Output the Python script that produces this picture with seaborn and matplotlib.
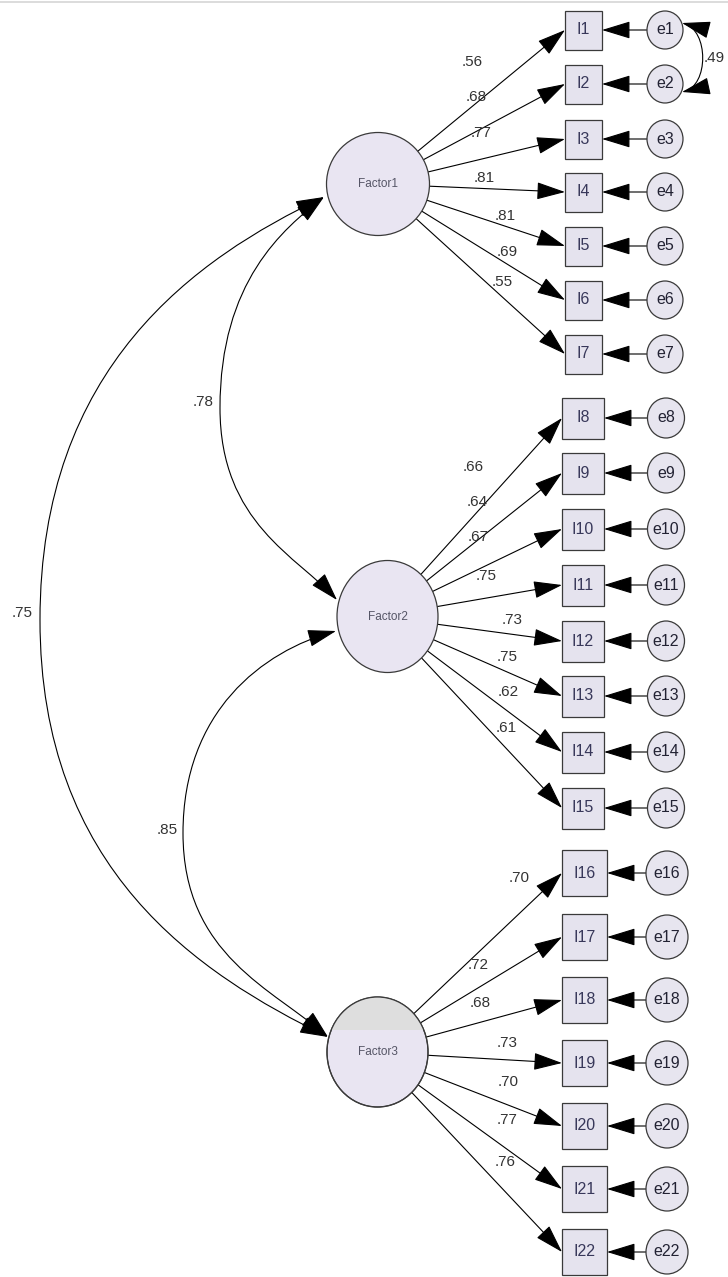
import numpy as np
import matplotlib
matplotlib.use("Agg")
import matplotlib.pyplot as plt
import seaborn as sns
from matplotlib.patches import Ellipse, Rectangle, FancyArrowPatch
from matplotlib.path import Path

sns.set_theme(style="white")
plt.rcParams['font.family'] = ['Liberation Sans', 'DejaVu Sans']

# ---- data ----
factors = ['Factor1', 'Factor2', 'Factor3']
items1 = ['I1', 'I2', 'I3', 'I4', 'I5', 'I6', 'I7']
items2 = ['I8', 'I9', 'I10', 'I11', 'I12', 'I13', 'I14', 'I15']
items3 = ['I16', 'I17', 'I18', 'I19', 'I20', 'I21', 'I22']
errors1 = ['e1', 'e2', 'e3', 'e4', 'e5', 'e6', 'e7']
errors2 = ['e8', 'e9', 'e10', 'e11', 'e12', 'e13', 'e14', 'e15']
errors3 = ['e16', 'e17', 'e18', 'e19', 'e20', 'e21', 'e22']
loadings1 = [.56, .68, .77, .81, .81, .69, .55]
loadings2 = [.66, .64, .67, .75, .73, .75, .62, .61]
loadings3 = [.70, .72, .68, .73, .70, .77, .76]
cov_f1_f2 = .78
cov_f2_f3 = .85
cov_f1_f3 = .75
cov_e1_e2 = .49

# ---- layout (pixels) ----
W, H = 728, 1277
factor_xy = [(378, 184), (387.5, 616.5), (377.5, 1052)]
factor_wh = [(103, 103), (101, 112), (101, 110)]
item_y1 = [30, 84, 139, 192, 246, 300, 354]
item_y2 = [418, 473, 529, 585, 641, 696, 752, 808]
item_y3 = [873, 937, 1000, 1063, 1126, 1189, 1252]
box_cx = [583.5, 583, 584.5]
box_wh = [(37, 39), (42, 41), (45, 46)]
err_cx = [665, 666, 667]
err_r = [(18, 19), (18.5, 20), (21, 22)]
lab_pos1 = [(472, 62), (476, 97), (481, 133), (484, 178), (505, 216), (507, 252), (502, 282)]
lab_pos2 = [(473, 467), (477, 502), (478, 537), (486, 576), (512, 620), (507, 657), (508, 692), (506, 728)]
lab_pos3 = [(519, 878), (478, 965), (480, 1003), (507, 1043), (508, 1082), (507, 1120), (505, 1162)]

fill_f = '#e9e5f2'
fill_box = '#e5e3ee'
fill_e = '#e7e5ef'
edge = '#3a3a3a'
HEAD = "-|>,head_length=1.8,head_width=0.55"
HEAD2 = "<|-|>,head_length=1.8,head_width=0.55"

fig = plt.figure(figsize=(W / 100, H / 100), dpi=100)
ax = fig.add_axes([0, 0, 1, 1])
ax.set_xlim(0, W)
ax.set_ylim(H, 0)
ax.axis('off')
ax.axhline(1.5, color='#d5d5d5', lw=1.2)


def fmt(v):
    return f"{v:.2f}".lstrip('0')


def arrow(p0, p1, style=HEAD):
    a = FancyArrowPatch(p0, p1, arrowstyle=style, mutation_scale=10, lw=0.8,
                        color='black', shrinkA=0, shrinkB=0, zorder=3)
    ax.add_patch(a)


# factors
for k, name in enumerate(factors):
    (cx, cy), (w, h) = factor_xy[k], factor_wh[k]
    e = Ellipse((cx, cy), w, h, fc=fill_f, ec=edge, lw=0.9, zorder=4)
    ax.add_patch(e)
    if k == 2:
        grey = Rectangle((cx - w, cy - h), 2 * w, (cy - 22) - (cy - h), fc='#dedede', ec='none', zorder=4)
        ax.add_patch(grey)
        grey.set_clip_path(e)
        ax.add_patch(Ellipse((cx, cy), w, h, fc='none', ec=edge, lw=0.9, zorder=4))
    ax.text(cx, cy, name, ha='center', va='center', fontsize=8.5, color='#555566', zorder=5)

blocks = [(items1, errors1, loadings1, item_y1, lab_pos1),
          (items2, errors2, loadings2, item_y2, lab_pos2),
          (items3, errors3, loadings3, item_y3, lab_pos3)]

for k, (items, errs, loads, ys, labs) in enumerate(blocks):
    fx, fy = factor_xy[k]
    fw, fh = factor_wh[k]
    bw, bh = box_wh[k]
    bx = box_cx[k]
    ex = err_cx[k]
    erx, ery = err_r[k]
    for it, er, ld, y, (lx, ly) in zip(items, errs, loads, ys, labs):
        ax.add_patch(Rectangle((bx - bw / 2, y - bh / 2), bw, bh, fc=fill_box, ec=edge, lw=0.9, zorder=4))
        ax.text(bx, y, it, ha='center', va='center', fontsize=11.5, color='#38385a', zorder=5)
        ax.add_patch(Ellipse((ex, y), 2 * erx, 2 * ery, fc=fill_e, ec=edge, lw=0.9, zorder=4))
        ax.text(ex, y, er, ha='center', va='center', fontsize=11.5, color='#222233', zorder=5)
        # error -> item
        arrow((ex - erx, y), (bx + bw / 2, y))
        # factor -> item
        tx, ty = bx - bw / 2, y
        ang = np.arctan2(ty - fy, tx - fx)
        sx, sy = fx + fw / 2 * np.cos(ang), fy + fh / 2 * np.sin(ang)
        arrow((sx, sy), (tx, ty))
        ax.text(lx, ly, fmt(ld), ha='center', va='center', fontsize=11, color='#333333', zorder=5)


def cov_curve(p_top, d_top, p_left, p_bot, d_bot):
    xt, yt = p_top
    xl, yl = p_left
    xb, yb = p_bot
    d_top = np.array(d_top) / np.hypot(*d_top)
    d_bot = np.array(d_bot) / np.hypot(*d_bot)
    h1 = 0.6 * (yl - yt)
    h2 = 0.5 * (xt - xl)
    h3 = 0.6 * (yb - yl)
    h4 = 0.5 * (xb - xl)
    verts = [(xt, yt), (xt - h2 * d_top[0], yt - h2 * d_top[1]), (xl, yl - h1), (xl, yl),
             (xl, yl + h3), (xb - h4 * d_bot[0], yb - h4 * d_bot[1]), (xb, yb)]
    codes = [Path.MOVETO] + [Path.CURVE4] * 6
    p = FancyArrowPatch(path=Path(verts, codes), arrowstyle=HEAD2, mutation_scale=10,
                        lw=0.8, color='black', zorder=3)
    ax.add_patch(p)


cov_curve((324, 197), (0.79, -0.62), (220, 408), (337, 600), (0.67, 0.74))
cov_curve((324, 197), (0.9, -0.43), (40, 620), (328, 1037), (0.9, 0.44))
cov_curve((336, 631), (0.965, -0.263), (183, 833), (328, 1037), (0.75, 0.66))
ax.text(203, 402, fmt(cov_f1_f2), ha='center', va='center', fontsize=11, color='#333333')
ax.text(22, 613, fmt(cov_f1_f3), ha='center', va='center', fontsize=11, color='#333333')
ax.text(167, 830, fmt(cov_f2_f3), ha='center', va='center', fontsize=11, color='#333333')

# e1 <-> e2
verts = [(682, 23), (709, 30), (709, 86), (682, 92)]
codes = [Path.MOVETO, Path.CURVE4, Path.CURVE4, Path.CURVE4]
ax.add_patch(FancyArrowPatch(path=Path(verts, codes), arrowstyle=HEAD2, mutation_scale=10,
                             lw=0.8, color='black', zorder=3))
ax.text(704, 58, fmt(cov_e1_e2), ha='left', va='center', fontsize=11, color='#333333')

fig.savefig('out.png', dpi=100)
